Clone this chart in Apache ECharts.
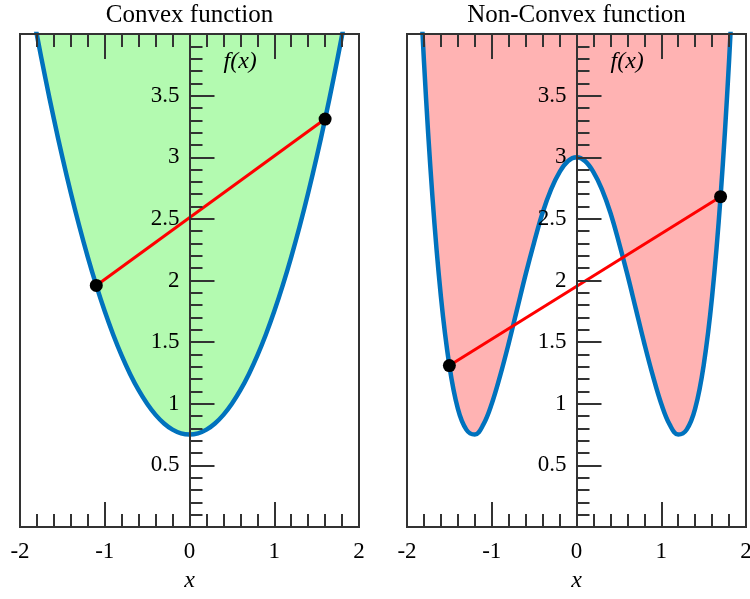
<!DOCTYPE html>
<html>
<head>
<meta charset="utf-8">
<style>
  html, body { margin: 0; padding: 0; background: #fff; }
  #chart { width: 750px; height: 599px; }
</style>
<script src="https://cdn.jsdelivr.net/npm/echarts@6/dist/echarts.min.js"></script>
</head>
<body>
<div id="chart"></div>
<script>
// Sample positions along x
const xs = [-2.0, -1.9, -1.8, -1.7, -1.6, -1.5, -1.4, -1.3, -1.2, -1.1, -1.0,
            -0.9, -0.8, -0.7, -0.6, -0.5, -0.4, -0.3, -0.2, -0.1, 0.0,
            0.1, 0.2, 0.3, 0.4, 0.5, 0.6, 0.7, 0.8, 0.9, 1.0,
            1.1, 1.2, 1.3, 1.4, 1.5, 1.6, 1.7, 1.8, 1.9, 2.0];

// Bowl-shaped curve (left panel)
const convexY = [4.75, 4.36, 3.99, 3.64, 3.31, 3.00, 2.71, 2.44, 2.19, 1.96, 1.75,
                 1.56, 1.39, 1.24, 1.11, 1.00, 0.91, 0.84, 0.79, 0.76, 0.75,
                 0.76, 0.79, 0.84, 0.91, 1.00, 1.11, 1.24, 1.39, 1.56, 1.75,
                 1.96, 2.19, 2.44, 2.71, 3.00, 3.31, 3.64, 3.99, 4.36, 4.75];

// Double-well curve (right panel)
const nonConvexY = [7.00, 5.20, 3.78, 2.68, 1.87, 1.31, 0.96, 0.79, 0.75, 0.83, 1.00,
                    1.23, 1.49, 1.77, 2.05, 2.31, 2.55, 2.74, 2.88, 2.97, 3.00,
                    2.97, 2.88, 2.74, 2.55, 2.31, 2.05, 1.77, 1.49, 1.23, 1.00,
                    0.83, 0.75, 0.79, 0.96, 1.31, 1.87, 2.68, 3.78, 5.20, 7.00];

// Chord end points
const convexChordX = [-1.1, 1.6];
const convexChordY = [1.96, 3.31];
const nonConvexChordX = [-1.5, 1.7];
const nonConvexChordY = [1.31, 2.68];

const panelTitles = ['Convex function', 'Non-Convex function'];
const fillColors = ['#b3fab0', '#ffb3b3'];

const ink = '#333';
const serif = 'Liberation Serif';
const PANEL_W = 339;

function zip(a, b) { return a.map((v, i) => [v, b[i]]); }

const grids = [
  { left: 20, top: 34, width: PANEL_W, height: 493 },
  { left: 407, top: 34, width: PANEL_W, height: 493 }
].map(g => Object.assign(g, {
  show: true, borderColor: ink, borderWidth: 2, backgroundColor: 'transparent',
  containLabel: false, outerBoundsMode: 'none'
}));

const tickStyle = { color: ink, width: 2 };
const xAxes = [];
const yAxes = [];
[0, 1].forEach(gi => {
  // bottom axis with labels
  xAxes.push({
    type: 'value', gridIndex: gi, position: 'bottom', min: -2, max: 2, interval: 1, z: 10,
    axisLine: { show: true, onZero: false, lineStyle: tickStyle },
    axisTick: { show: true, inside: true, length: 25, lineStyle: tickStyle },
    minorTick: { show: true, splitNumber: 5, length: 13, lineStyle: tickStyle },
    axisLabel: { show: true, margin: 13, color: '#000', fontFamily: serif, fontSize: 23,
                 showMinLabel: true, showMaxLabel: true, hideOverlap: false },
    splitLine: { show: false },
    name: 'x', nameLocation: 'middle', nameGap: 42,
    nameTextStyle: { fontFamily: serif, fontStyle: 'italic', fontSize: 24, color: '#000' }
  });
  // top axis carrying the panel title
  xAxes.push({
    type: 'value', gridIndex: gi, position: 'top', min: -2, max: 2, interval: 1, z: 10,
    axisLine: { show: true, onZero: false, lineStyle: tickStyle },
    axisTick: { show: true, inside: true, length: 25, lineStyle: tickStyle },
    minorTick: { show: true, splitNumber: 5, length: 13, lineStyle: tickStyle },
    axisLabel: { show: false },
    splitLine: { show: false },
    name: panelTitles[gi], nameLocation: 'middle', nameGap: 6,
    nameTextStyle: { fontFamily: serif, fontSize: 25, color: '#000' }
  });
  // vertical axis through the middle of the panel (x = 0)
  yAxes.push({
    type: 'value', gridIndex: gi, position: 'left', offset: -PANEL_W / 2,
    min: 0, max: 4, interval: 0.5, z: 10,
    axisLine: { show: true, onZero: false, lineStyle: tickStyle },
    axisTick: { show: true, inside: true, length: 25, lineStyle: tickStyle },
    minorTick: { show: true, splitNumber: 5, length: 13, lineStyle: tickStyle },
    axisLabel: { show: true, margin: 10, color: '#000', fontFamily: serif, fontSize: 23,
                 showMinLabel: false, showMaxLabel: false },
    splitLine: { show: false },
    name: 'f(x)', nameLocation: 'end', nameGap: -40,
    nameTextStyle: { fontFamily: serif, fontStyle: 'italic', fontSize: 24, color: '#000',
                     align: 'left', padding: [0, 0, 0, 34] }
  });
});

function panelSeries(gi, ys, chordX, chordY) {
  const curve = zip(xs, ys);
  return [
    {
      // region above the curve
      type: 'line', xAxisIndex: gi * 2, yAxisIndex: gi, data: curve,
      smooth: 0.4, showSymbol: false, clip: true, z: 1,
      lineStyle: { width: 0, opacity: 0 },
      areaStyle: { origin: 'end', color: fillColors[gi], opacity: 1 },
      silent: true
    },
    {
      type: 'line', xAxisIndex: gi * 2, yAxisIndex: gi, data: curve,
      smooth: 0.4, showSymbol: false, clip: true, z: 2,
      lineStyle: { color: '#0072bd', width: 4.5 },
      silent: true
    },
    {
      type: 'line', xAxisIndex: gi * 2, yAxisIndex: gi, data: zip(chordX, chordY),
      showSymbol: false, z: 4,
      lineStyle: { color: '#ff0000', width: 3 },
      silent: true
    },
    {
      type: 'scatter', xAxisIndex: gi * 2, yAxisIndex: gi, data: zip(chordX, chordY),
      symbolSize: 13, z: 5, itemStyle: { color: '#000', opacity: 1 }, silent: true
    }
  ];
}

const chart = echarts.init(document.getElementById('chart'), null, { renderer: 'canvas' });
chart.setOption({
  animation: false,
  backgroundColor: '#fff',
  grid: grids,
  xAxis: xAxes,
  yAxis: yAxes,
  series: [].concat(
    panelSeries(0, convexY, convexChordX, convexChordY),
    panelSeries(1, nonConvexY, nonConvexChordX, nonConvexChordY)
  )
});
</script>
</body>
</html>
